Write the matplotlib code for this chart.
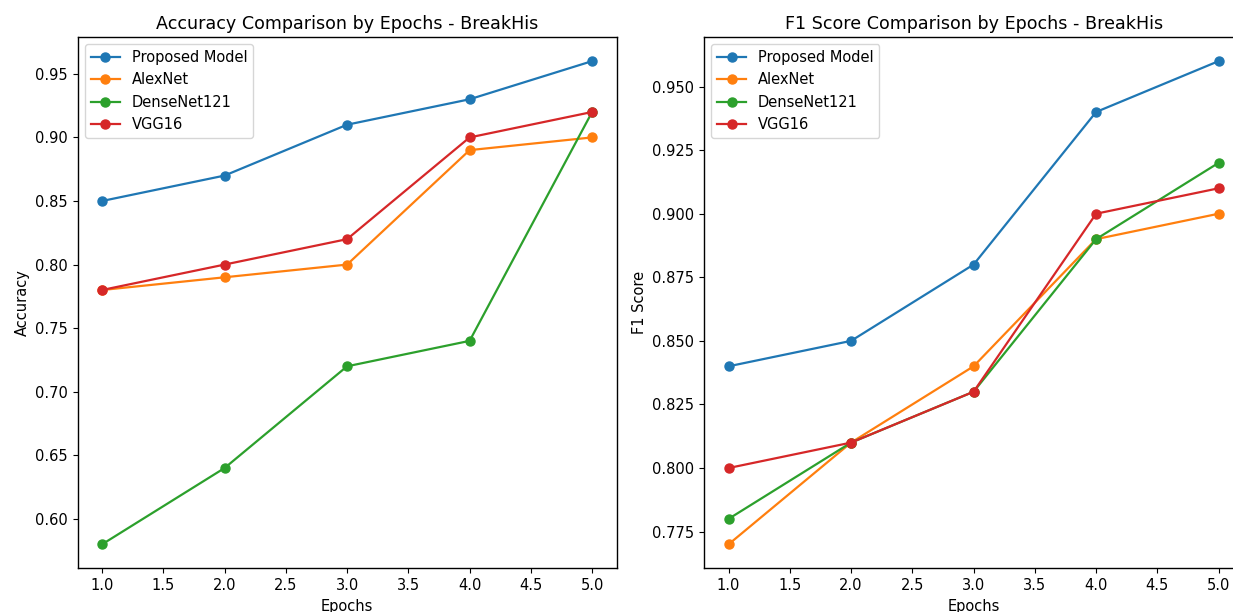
import matplotlib
matplotlib.use('Agg')
import matplotlib.pyplot as plt

# Epochs and model results
epochs = [1, 2, 3, 4, 5]
models = ['Proposed Model', 'AlexNet', 'DenseNet121', 'VGG16']

acc_proposed = [0.85, 0.87, 0.91, 0.93, 0.96]
acc_alexnet = [0.78, 0.79, 0.80, 0.89, 0.90]
acc_densenet = [0.58, 0.64, 0.72, 0.74, 0.92]
acc_vgg = [0.78, 0.80, 0.82, 0.90, 0.92]

f1_proposed = [0.84, 0.85, 0.88, 0.94, 0.96]
f1_alexnet = [0.77, 0.81, 0.84, 0.89, 0.90]
f1_densenet = [0.78, 0.81, 0.83, 0.89, 0.92]
f1_vgg = [0.80, 0.81, 0.83, 0.90, 0.91]

# reference looks like a default plot scaled up ~5%
plt.rcParams['font.size'] = 10.5
plt.rcParams['axes.titlesize'] = 12.6
plt.rcParams['lines.linewidth'] = 1.6
plt.rcParams['lines.markersize'] = 6.5
plt.rcParams['axes.linewidth'] = 1.0

fig = plt.figure(figsize=(12.33, 6.12), dpi=100)
ax1 = fig.add_axes([0.0629, 0.0711, 0.4372, 0.8685])
ax2 = fig.add_axes([0.571, 0.0711, 0.4372, 0.8685])

# Accuracy
for vals, name in zip([acc_proposed, acc_alexnet, acc_densenet, acc_vgg], models):
    ax1.plot(epochs, vals, marker='o', label=name)
ax1.set_title('Accuracy Comparison by Epochs - BreakHis')
ax1.set_xlabel('Epochs')
ax1.set_ylabel('Accuracy')
ax1.legend(loc='upper left')

# F1 score
for vals, name in zip([f1_proposed, f1_alexnet, f1_densenet, f1_vgg], models):
    ax2.plot(epochs, vals, marker='o', label=name)
ax2.set_title('F1 Score Comparison by Epochs - BreakHis')
ax2.set_xlabel('Epochs')
ax2.set_ylabel('F1 Score')
ax2.legend(loc='upper left')

plt.savefig('out.png', dpi=100)
